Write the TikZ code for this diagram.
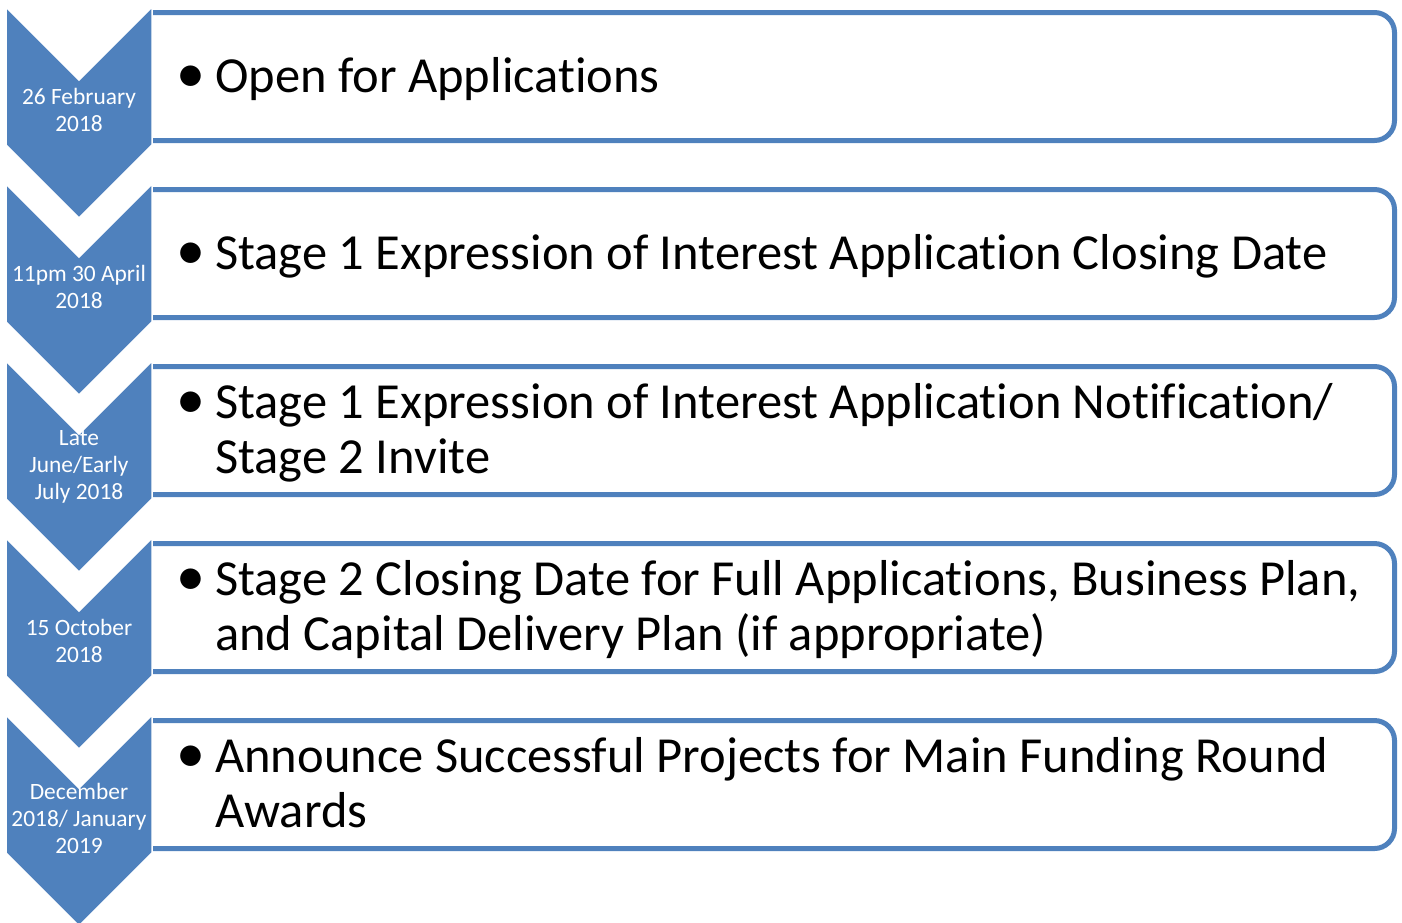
\documentclass[tikz,border=0pt]{standalone}
\usepackage{fontspec}
\setmainfont{Carlito}[Ligatures=NoCommon]
\definecolor{accent}{HTML}{4F81BD}
\begin{document}
\begin{tikzpicture}[x=1pt,y=-1pt,
  chev/.style={fill=accent,draw=white,line width=1.5pt,line join=miter},
  card/.style={draw=accent,line width=5pt,fill=white},
  datetxt/.style={text=white,inner sep=0pt,font=\fontsize{23.4}{27}\selectfont},
  itemtxt/.style={anchor=west,inner sep=0pt,font=\fontsize{50.5}{55}\selectfont}]
\useasboundingbox (0,0) rectangle (1402,922);
\newcommand{\stepitem}[4]{%
  % #1 index, #2 date, #3 text, #4 name
  \pgfmathsetmacro{\T}{7+177*#1}
  \pgfmathsetmacro{\Bt}{\T+5.5}
  \pgfmathsetmacro{\Bb}{\T+133.5}
  \draw[card] (150,\Bt) [rounded corners=20pt] -- (1394.5,\Bt) -- (1394.5,\Bb) -- (150,\Bb);
  \draw[chev] (6,\T) -- (79,\T+73) -- (152,\T) -- (152,\T+138) -- (79,\T+211) -- (6,\T+138) -- cycle;
  \node[datetxt] (d#4) at (79,\T+106) {\begin{tabular}{@{}c@{}}#2\end{tabular}};
  \node[itemtxt] (t#4) at (181,\T+74) {\begin{tabular}{@{}l@{}l@{}}\makebox[34pt][l]{\hspace{-5pt}\scalebox{1.15}{•}}&#3\end{tabular}};
}
\stepitem{0}{26 February\\2018}{Open for Applications}{a}
\stepitem{1}{11pm 30 April\\2018}{Stage 1 Expression of Interest Application Closing Date}{b}
\stepitem{2}{Late\\June/Early\\July 2018}{Stage 1 Expression of Interest Application Notification/\\&Stage 2 Invite}{c}
\stepitem{3}{15 October\\2018}{Stage 2 Closing Date for Full Applications, Business Plan,\\&and Capital Delivery Plan (if appropriate)}{d}
\stepitem{4}{December\\2018/ January\\2019}{Announce Successful Projects for Main Funding Round\\&Awards}{e}
\end{tikzpicture}
\end{document}
